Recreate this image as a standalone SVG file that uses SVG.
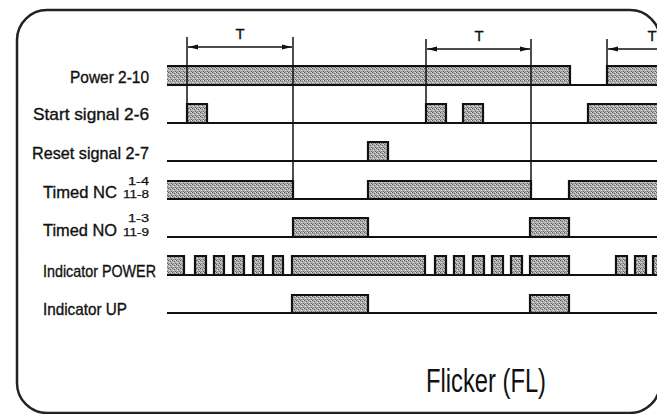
<svg xmlns="http://www.w3.org/2000/svg" width="657" height="414" viewBox="0 0 657 414">
<defs>
<pattern id="stip" width="4" height="4" patternUnits="userSpaceOnUse">
<rect width="4" height="4" fill="#b0b0b0"/>
<rect x="0" y="0" width="1" height="1" fill="#5a5a5a"/>
<rect x="2" y="1" width="1" height="1" fill="#6a6a6a"/>
<rect x="1" y="2" width="1" height="1" fill="#e0e0e0"/>
<rect x="3" y="3" width="1" height="1" fill="#646464"/>
<rect x="3" y="0" width="1" height="1" fill="#dcdcdc"/>
<rect x="1" y="3" width="1" height="1" fill="#888888"/>
</pattern>
<marker id="ah" viewBox="0 0 10 6" refX="10" refY="3" markerWidth="10" markerHeight="6" markerUnits="userSpaceOnUse" orient="auto-start-reverse">
<path d="M0,0.6 L10,3 L0,5.4 Z" fill="#111"/>
</marker>
</defs>
<style>
.lbl{font-family:"Liberation Sans",Arial,sans-serif;font-size:17px;fill:#111;stroke:#111;stroke-width:0.35;text-anchor:end}
.sub{font-family:"Liberation Sans",Arial,sans-serif;font-size:11px;fill:#111;stroke:#111;stroke-width:0.25;text-anchor:end}
.t{font-family:"Liberation Sans",Arial,sans-serif;font-size:15px;fill:#111;stroke:#111;stroke-width:0.3;text-anchor:middle}
.wave{fill:none;stroke:#111;stroke-width:2.2;stroke-linejoin:miter}
.bar{fill:url(#stip);stroke:none}
.vl{stroke:#111;stroke-width:1.5;fill:none}
.arr{stroke:#111;stroke-width:1.3;fill:none}
.frame{fill:none;stroke:#222;stroke-width:2.5}
</style>
<rect width="657" height="414" fill="#ffffff"/>
<rect class="frame" x="17" y="10" width="643" height="403" rx="30"/>

<g id="power">
<text class="lbl" x="149" y="83" textLength="79" lengthAdjust="spacingAndGlyphs">Power 2-10</text>
<rect class="bar" x="167" y="66" width="403" height="19"/>
<rect class="bar" x="607" y="66" width="53" height="19"/>
<path class="wave" d="M167,85 H660 M167,66 H570 V85 M607,85 V66 H660"/>
</g>

<g id="start">
<text class="lbl" x="149" y="120" textLength="116" lengthAdjust="spacingAndGlyphs">Start signal 2-6</text>
<rect class="bar" x="187" y="104" width="20" height="19"/>
<rect class="bar" x="426" y="104" width="20" height="19"/>
<rect class="bar" x="463" y="104" width="20" height="19"/>
<rect class="bar" x="588" y="104" width="72" height="19"/>
<path class="wave" d="M167,123 H660 M187,123 V104 H207 V123 M426,123 V104 H446 V123 M463,123 V104 H483 V123 M588,123 V104 H660"/>
</g>

<g id="reset">
<text class="lbl" x="149" y="159" textLength="117" lengthAdjust="spacingAndGlyphs">Reset signal 2-7</text>
<rect class="bar" x="368" y="142" width="20" height="19"/>
<path class="wave" d="M167,161 H660 M368,161 V142 H388 V161"/>
</g>

<g id="timed-nc">
<text class="lbl" x="117" y="198" textLength="74" lengthAdjust="spacingAndGlyphs">Timed NC</text>
<text class="sub" x="149" y="185" textLength="21" lengthAdjust="spacingAndGlyphs">1-4</text>
<text class="sub" x="149" y="198" textLength="26" lengthAdjust="spacingAndGlyphs">11-8</text>
<rect class="bar" x="167" y="181" width="126" height="18"/>
<rect class="bar" x="368" y="181" width="163" height="18"/>
<rect class="bar" x="569" y="181" width="91" height="18"/>
<path class="wave" d="M167,199 H660 M167,181 H293 V199 M368,199 V181 H531 V199 M569,199 V181 H660"/>
</g>

<g id="timed-no">
<text class="lbl" x="117" y="236" textLength="74" lengthAdjust="spacingAndGlyphs">Timed NO</text>
<text class="sub" x="149" y="222" textLength="21" lengthAdjust="spacingAndGlyphs">1-3</text>
<text class="sub" x="149" y="236" textLength="26" lengthAdjust="spacingAndGlyphs">11-9</text>
<rect class="bar" x="293" y="218" width="75" height="19"/>
<rect class="bar" x="530" y="218" width="39" height="19"/>
<path class="wave" d="M167,237 H660 M293,237 V218 H368 V237 M530,237 V218 H569 V237"/>
</g>

<g id="ind-power">
<text class="lbl" x="156" y="277" textLength="113" lengthAdjust="spacingAndGlyphs">Indicator POWER</text>
<g class="bar">
<rect x="167" y="256" width="17" height="19"/>
<rect x="195" y="256" width="11" height="19"/>
<rect x="214" y="256" width="10" height="19"/>
<rect x="233" y="256" width="11" height="19"/>
<rect x="253" y="256" width="10" height="19"/>
<rect x="273" y="256" width="10" height="19"/>
<rect x="292" y="256" width="133" height="19"/>
<rect x="435" y="256" width="11" height="19"/>
<rect x="454" y="256" width="10" height="19"/>
<rect x="473" y="256" width="11" height="19"/>
<rect x="492" y="256" width="11" height="19"/>
<rect x="511" y="256" width="11" height="19"/>
<rect x="530" y="256" width="39" height="19"/>
<rect x="616" y="256" width="11" height="19"/>
<rect x="635" y="256" width="11" height="19"/>
<rect x="653" y="256" width="7" height="19"/>
</g>
<path class="wave" d="M167,275 H660 M167,256 H184 V275 M195,275 V256 H206 V275 M214,275 V256 H224 V275 M233,275 V256 H244 V275 M253,275 V256 H263 V275 M273,275 V256 H283 V275 M292,275 V256 H425 V275 M435,275 V256 H446 V275 M454,275 V256 H464 V275 M473,275 V256 H484 V275 M492,275 V256 H503 V275 M511,275 V256 H522 V275 M530,275 V256 H569 V275 M616,275 V256 H627 V275 M635,275 V256 H646 V275 M653,275 V256 H660"/>
</g>

<g id="ind-up">
<text class="lbl" x="127" y="315" textLength="84" lengthAdjust="spacingAndGlyphs">Indicator UP</text>
<rect class="bar" x="292" y="295" width="76" height="18"/>
<rect class="bar" x="530" y="295" width="39" height="18"/>
<path class="wave" d="M167,313 H660 M292,313 V295 H368 V313 M530,313 V295 H569 V313"/>
</g>

<g id="connectors">
<line class="vl" x1="187" y1="37" x2="187" y2="104"/>
<line class="vl" x1="293" y1="37" x2="293" y2="181"/>
<line class="vl" x1="426" y1="39" x2="426" y2="104"/>
<line class="vl" x1="531" y1="39" x2="531" y2="181"/>
<line class="vl" x1="607" y1="39" x2="607" y2="66"/>
<line class="arr" x1="188" y1="47" x2="292" y2="47" marker-start="url(#ah)" marker-end="url(#ah)"/>
<line class="arr" x1="427" y1="49" x2="530" y2="49" marker-start="url(#ah)" marker-end="url(#ah)"/>
<line class="arr" x1="608" y1="49" x2="660" y2="49" marker-start="url(#ah)"/>
</g>

<g id="labels">
<text class="t" x="240" y="39">T</text>
<text class="t" x="479" y="41">T</text>
<text class="t" x="652" y="41">T</text>
<text x="426" y="392" textLength="120" lengthAdjust="spacingAndGlyphs" style="font-family:'Liberation Sans',Arial,sans-serif;font-size:33px;fill:#111">Flicker (FL)</text>
</g>
</svg>
